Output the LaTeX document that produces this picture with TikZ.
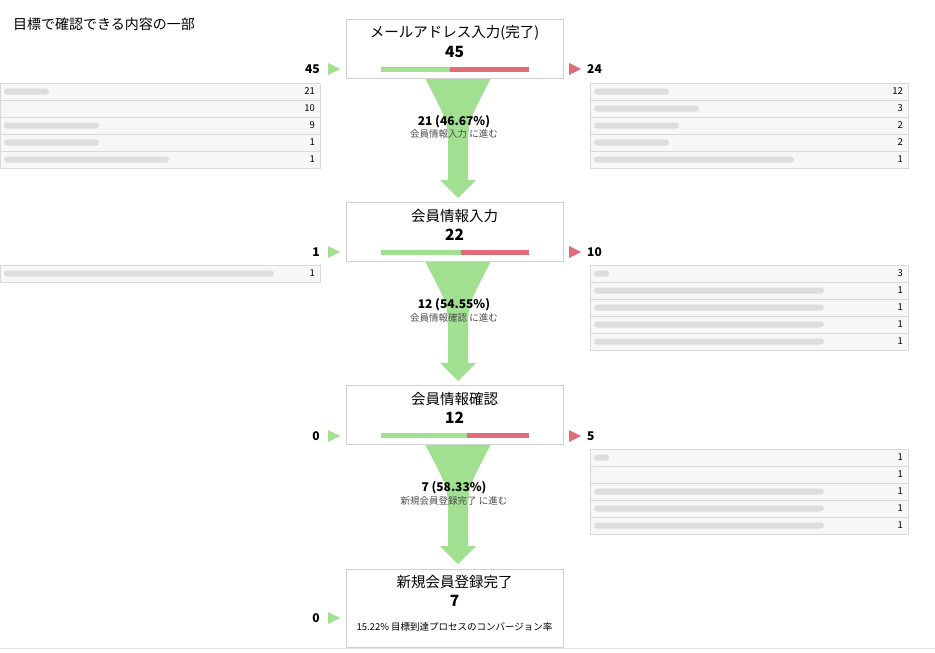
\documentclass[tikz,border=0pt]{standalone}
\usepackage{fontspec}
\setmainfont{Noto Sans CJK JP}
\definecolor{fgreen}{RGB}{160,224,144}
\definecolor{fred}{RGB}{224,108,122}
\begin{document}
\begin{tikzpicture}[x=1pt,y=-1pt,
  stepbox/.style={draw=black!18,fill=white,line width=0.8pt},
  ttl/.style={font=\fontsize{14.5}{16}\selectfont,inner sep=0},
  num/.style={font=\fontsize{15.5}{17}\selectfont\bfseries,inner sep=0},
  side/.style={font=\fontsize{12}{14}\selectfont\bfseries,inner sep=0},
  pct/.style={font=\fontsize{12}{13}\selectfont\bfseries,inner sep=0},
  sub/.style={font=\fontsize{9.5}{10}\selectfont,text=black!70,inner sep=0},
  cell/.style={font=\fontsize{9.5}{11}\selectfont,inner sep=0},
  funnel/.style={fill=fgreen,draw=none},
  gbar/.style={fill=fgreen},
  rbar/.style={fill=fred},
  tab/.style={draw=black!15,fill=black!3,line width=0.6pt},
  blur/.style={fill=black!20,rounded corners=3pt,opacity=0.6}]
\useasboundingbox (0,0) rectangle (935,653);
\fill[white] (0,0) rectangle (935,653);
\draw[black!12,line width=1pt] (0,648) -- (935,648);
\node[anchor=west,font=\fontsize{14}{15}\selectfont,inner sep=0] (title) at (13,24) {目標で確認できる内容の一部};

% funnels
\foreach \t in {78,261,444}{
  \fill[funnel] (425,\t) .. controls (440,\t+30) and (448,\t+40) .. (448,\t+62) -- (448,\t+102) -- (440,\t+102) -- (458,\t+120) -- (476,\t+102) -- (468,\t+102) -- (468,\t+62) .. controls (468,\t+40) and (476,\t+30) .. (491,\t) -- cycle;
}
% boxes
\draw[stepbox] (346,19) rectangle (563,78);
\draw[stepbox] (346,202) rectangle (563,261);
\draw[stepbox] (346,385) rectangle (563,444);
\draw[stepbox] (346,569) rectangle (563,647);
\node[ttl] (s1) at (454.5,33) {メールアドレス入力(完了)};
\node[num] (n1) at (454.5,52) {45};
\node[ttl] (s2) at (454.5,216) {会員情報入力};
\node[num] (n2) at (454.5,235) {22};
\node[ttl] (s3) at (454.5,399) {会員情報確認};
\node[num] (n3) at (454.5,418) {12};
\node[ttl] (s4) at (454.5,582) {新規会員登録完了};
\node[num] (n4) at (454.5,601) {7};
\node[font=\fontsize{9.5}{11}\selectfont,inner sep=0] (cr) at (454.5,627) {15.22\% 目標到達プロセスのコンバージョン率};
% bars
\fill[gbar] (381,66.5) rectangle (450,71.5); \fill[rbar] (450,66.5) rectangle (529,71.5);
\fill[gbar] (381,249.5) rectangle (461,254.5); \fill[rbar] (461,249.5) rectangle (529,254.5);
\fill[gbar] (381,432.5) rectangle (467,437.5); \fill[rbar] (467,432.5) rectangle (529,437.5);
% funnel text
\node[pct] (p1) at (454,122) {21 (46.67\%)};
\node[sub] (q1) at (454,134) {会員情報入力 に進む};
\node[pct] (p2) at (454,305) {12 (54.55\%)};
\node[sub] (q2) at (454,318) {会員情報確認 に進む};
\node[pct] (p3) at (454,488) {7 (58.33\%)};
\node[sub] (q3) at (454,501) {新規会員登録完了 に進む};
% side arrows & numbers
\foreach \y/\l [count=\i] in {69/45,252/1,436/0,618/0}{
  \fill[fgreen] (328,\y-6) -- (340,\y) -- (328,\y+6) -- cycle;
  \node[side,anchor=east] (l\i) at (320,\y) {\l};
}
\foreach \y/\r [count=\i] in {69/24,252/10,436/5}{
  \fill[fred] (569,\y-6) -- (581,\y) -- (569,\y+6) -- cycle;
  \node[side,anchor=west] (r\i) at (587,\y) {\r};
}
% tables
\newcommand\mytable[5]{%
  \foreach \v/\w [count=\k] in {#4}{
    \pgfmathsetmacro\ya{#3+(\k-1)*17}
    \draw[tab] (#1,\ya) rectangle (#2,\ya+17);
    \fill[blur] (#1+4,\ya+5.5) rectangle (#1+4+\w,\ya+11.5);
    \node[cell,anchor=east] (#5\k) at (#2-5,\ya+8.5) {\v};
  }}
\mytable{0}{320}{83}{21/45,10/0,9/95,1/95,1/165}{ta}
\mytable{590}{908}{83}{12/75,3/105,2/85,2/75,1/200}{tb}
\mytable{0}{320}{265}{1/270}{tc}
\mytable{590}{908}{265}{3/15,1/230,1/230,1/230,1/230}{td}
\mytable{590}{908}{449}{1/15,1/0,1/230,1/230,1/230}{te}
\end{tikzpicture}
\end{document}
